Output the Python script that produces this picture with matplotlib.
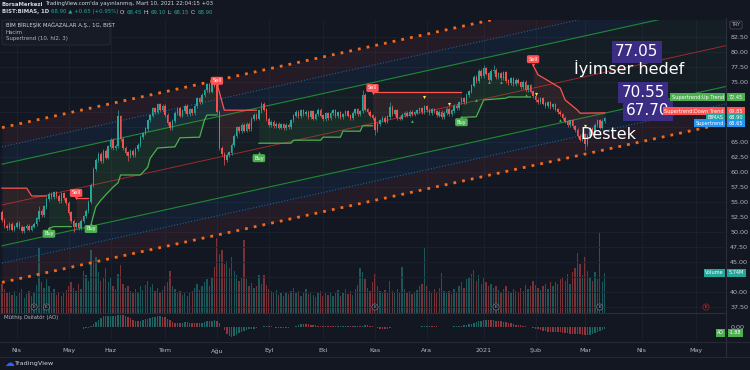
import numpy as np
import matplotlib
matplotlib.use('Agg')
import matplotlib.pyplot as plt
from matplotlib.patches import FancyBboxPatch
from matplotlib.transforms import blended_transform_factory

BG = '#131722'
UP = '#26a69a'
DN = '#ef5350'
TXT = '#b2b5be'
GRID = '#1c2130'
W, H = 750, 370

# daily closes, BIST:BIMAS, late Mar 2020 -> 10 Mar 2021
first_open = 53.3
closes = [
    52.0, 51.0, 50.6, 51.3, 50.4, 50.9, 51.5, 50.8, 50.2, 50.7, 51.0, 50.4, 50.9, 51.3,
    52.2, 53.5, 52.8, 54.2, 55.5, 56.3, 55.8, 56.6, 56.0, 55.2, 56.4, 55.6, 54.8,
    53.2, 51.8, 50.9, 51.4, 50.6, 51.8, 52.6, 53.5, 55.0, 57.8, 60.5, 62.0,
    63.0, 61.8, 63.5, 62.4, 64.2, 65.3, 64.0, 64.3, 69.2, 65.5,
    64.0, 63.2, 62.6, 63.5, 62.8, 63.8, 64.5, 65.8, 66.4, 67.2,
    68.6, 69.4, 70.6, 70.0, 71.2, 70.4, 71.0, 69.5, 68.2, 67.3, 68.5,
    69.8, 70.6, 69.4, 70.2, 71.0, 69.6, 70.4, 69.8, 71.0, 72.2, 71.6, 72.8, 73.6,
    74.6, 73.4, 74.8, 74.4, 70.0, 64.0, 63.0, 62.0, 62.8, 63.2,
    64.5, 66.0, 67.4, 66.8, 67.8, 66.9, 68.0, 67.2, 68.8, 69.5, 68.9,
    70.2, 71.3, 70.4, 68.8, 67.8, 68.3, 67.6, 68.0, 67.4, 67.9, 67.3, 67.8, 67.5,
    68.6, 69.4, 70.0, 69.3, 70.2, 69.6, 70.0, 69.2, 70.1, 68.9, 69.6, 70.3, 69.4, 68.8, 69.7,
    69.0, 69.8, 70.2, 69.3, 69.9, 69.2, 69.6, 70.1, 69.4, 69.0, 69.8, 70.4, 69.7, 70.1,
    72.8, 70.4, 70.0, 69.4, 69.0, 67.0, 68.0, 68.6, 69.0, 68.4, 69.2,
    70.8, 69.6, 70.2, 69.0, 68.9, 69.5, 69.8, 69.4, 70.0, 69.6, 69.9, 70.2,
    70.6, 70.0, 70.9, 70.3, 69.8, 70.4, 70.1, 69.5, 70.0, 69.2, 69.8, 70.5, 69.6, 70.2, 71.0, 70.6,
    71.6, 72.2, 71.6, 72.8, 73.4, 74.4, 75.8, 75.2, 76.8, 76.0, 77.2,
    76.4, 75.4, 76.8, 77.0, 75.8, 76.4, 75.6, 76.6, 75.2, 74.8, 75.6, 74.6, 75.3, 74.9,
    74.2, 75.0, 73.6, 74.4, 73.4, 72.6, 72.0, 71.6, 72.2, 71.4, 71.0, 71.6, 70.8,
    71.2, 70.4, 70.0, 69.6, 69.0, 68.4, 67.8, 68.6, 67.6, 67.0, 66.0, 65.4, 66.2, 64.6,
    66.0, 67.2, 66.4, 67.8, 68.6, 67.4, 68.45, 68.90,
]
# long wicks that stand out
high_spikes = {15: 54.4, 47: 70.3, 86: 75.6, 146: 73.6, 157: 71.6, 195: 77.9, 199: 77.8, 244: 69.10}
low_spikes = {29: 50.0, 51: 61.8, 90: 61.2, 151: 66.2, 236: 63.7, 244: 68.15}

# volume, millions
volumes = [
    4.2, 3.5, 2.8, 3.0, 2.6, 3.2, 2.4, 2.9, 3.4, 2.2, 2.7, 3.1, 2.5, 3.0,
    4.0, 9.4, 4.5, 3.6, 4.8, 3.9, 2.8, 3.4, 2.6, 3.0, 2.4, 2.9, 3.3,
    3.8, 4.4, 3.6, 3.2, 4.1, 3.5, 6.0, 5.5, 4.6, 9.0, 7.5, 8.0,
    5.8, 4.6, 5.0, 6.4, 4.4, 5.2, 3.8, 3.4, 5.6, 6.8,
    4.2, 3.6, 3.9, 3.2, 2.8, 3.5, 3.0, 3.8, 3.3, 4.0,
    4.6, 3.7, 4.2, 3.1, 3.6, 2.9, 3.3, 3.8, 4.5, 6.0, 3.9,
    3.4, 2.8, 3.1, 2.6, 3.0, 2.5, 2.9, 3.2, 3.6, 4.1, 3.3, 3.9, 4.4,
    4.8, 3.9, 5.2, 6.6, 10.7, 8.5, 9.0, 7.0, 7.5, 6.5,
    8.0, 6.0, 5.4, 4.6, 5.0, 10.4, 4.8, 3.9, 4.3, 3.6, 3.8,
    5.4, 4.2, 5.4, 4.0, 3.5, 3.1, 2.8, 3.3, 2.6, 2.9, 2.4, 3.0, 2.7,
    3.2, 3.6, 2.8, 3.1, 2.5, 2.9, 3.4, 2.7, 3.0, 2.6, 2.3, 2.8, 3.2, 2.5, 2.9,
    2.6, 3.0, 2.4, 2.8, 3.3, 2.5, 2.9, 3.5, 2.7, 3.1, 2.6, 3.4, 4.0, 6.4,
    5.8, 4.9, 3.6, 3.2, 4.4, 5.6, 3.8, 3.1, 2.9, 3.3, 2.8,
    4.6, 3.2, 2.9, 3.5, 3.0, 6.6, 3.4, 2.8, 3.1, 2.7, 3.0, 3.3,
    3.8, 4.2, 9.3, 3.9, 3.2, 2.9, 3.4, 3.0, 3.6, 5.7, 3.1, 2.8, 3.2, 2.7, 3.5, 3.0,
    3.8, 4.4, 3.6, 4.8, 5.2, 5.6, 6.2, 4.6, 5.4, 4.2, 5.0,
    4.4, 3.8, 4.2, 3.6, 3.9, 3.3, 3.0, 3.5, 3.8, 3.2, 2.9, 3.4, 3.1, 2.8,
    3.6, 3.2, 4.0, 3.4, 3.8, 4.6, 4.0, 3.6, 3.3, 3.9, 4.2, 3.5, 4.4,
    3.8, 4.5, 4.1, 4.8, 5.2, 4.6, 5.6, 4.2, 5.8, 6.5, 8.6, 7.0, 5.4, 8.0,
    6.0, 5.2, 4.6, 5.8, 4.8, 11.6, 4.4, 5.74,
]

# supertrend (10, hl2, 3), read as (day, level) points
st_down = [
    [(0, 57.3), (10, 57.3), (12, 56.0), (18, 56.0)],
    [(30, 55.7), (35, 55.7)],
    [(87, 74.8), (90, 70.3), (103, 70.3)],
    [(150, 73.3), (186, 73.3)],
    [(215, 77.8), (217, 76.2), (222, 75.0), (226, 74.0), (228, 72.0), (233, 70.3), (234, 69.8), (244, 69.85)],
]
st_up = [
    [(19, 50.6), (21, 50.9), (28, 50.9)],
    [(36, 51.2), (38, 54.2), (40, 55.3), (42, 56.2), (45, 57.5), (47, 58.2), (48, 59.5), (56, 59.5),
     (59, 60.8), (60, 62.3), (63, 64.0), (70, 64.2), (72, 65.7), (80, 65.8), (82, 68.7), (83, 69.5), (87, 69.5)],
    [(104, 64.8), (117, 64.8), (118, 65.3), (129, 65.3), (130, 65.8), (137, 65.8), (138, 66.8),
     (145, 66.8), (146, 67.7), (150, 67.7)],
    [(186, 69.1), (192, 69.2), (195, 72.0), (204, 72.3), (205, 72.5), (214, 72.5)],
]
sell_days = [30, 87, 150, 215]
sell_prices = [56.5, 75.2, 74.0, 78.8]
buy_days = [19, 36, 104, 186]
buy_prices = [49.7, 50.5, 62.3, 68.3]
warn_days = [171, 181, 216, 236]
warn_prices = [72.5, 71.3, 73.0, 67.7]
ok_days = [166, 177, 192, 197, 202, 212, 226]
ok_prices = [68.5, 69.7, 72.0, 75.0, 75.0, 72.8, 68.6]
earn_days = [13, 18, 151, 200, 242]
earn_future = 285

# regression channel
ch_start = 54.5
ch_slope = 0.0906
ch_green, ch_blue, ch_orange = 6.8, 9.7, 12.9

month_pos = [6, 27, 44, 66, 87, 108, 130, 151, 172, 195, 216, 236, 259, 281]
month_lbl = ['Nis', 'May', 'Haz', 'Tem', 'Ağu', 'Eyl', 'Eki', 'Kas', 'Ara', '2021', 'Şub', 'Mar', 'Nis', 'May']
price_ticks = [37.5, 40.0, 45.0, 47.5, 50.0, 52.5, 55.0, 57.5, 60.0, 62.5, 65.0, 75.0, 77.5, 80.0, 82.5]
ao_last = -1.88

n = min(len(closes), len(volumes))
days = np.arange(n)
c = np.array(closes[:n])
o = np.r_[first_open, c[:-1]]
hi = np.maximum(o, c) + 0.3
lo = np.minimum(o, c) - 0.3
for d, v in high_spikes.items():
    if d < n: hi[d] = v
for d, v in low_spikes.items():
    if d < n: lo[d] = v
vol = np.array(volumes[:n])
up = c >= o

XMIN, XMAX = -0.81, 293.1
fig = plt.figure(figsize=(7.5, 3.7), dpi=100, facecolor=BG)
main_rect = [0, (H - 313) / H, 726 / W, 293 / H]
axv = fig.add_axes(main_rect, facecolor=BG)
ax = fig.add_axes(main_rect)
ax.patch.set_alpha(0)
ax2 = fig.add_axes([0, (H - 340) / H, 726 / W, 27 / H], facecolor=BG)

# volume
axv.bar(days, vol, width=0.55, color=np.where(up, UP, DN), alpha=0.45, linewidth=0)
axv.set_xlim(XMIN, XMAX)
axv.set_ylim(0, 41.9)
axv.axis('off')

ax.set_xlim(XMIN, XMAX)
ax.set_ylim(36.5, 85.33)
for m in month_pos:
    ax.axvline(m, color=GRID, lw=0.6, zorder=0)
    ax2.axvline(m, color=GRID, lw=0.6, zorder=0)
for p in np.arange(37.5, 85, 2.5):
    ax.axhline(p, color=GRID, lw=0.6, zorder=0)

# channel
cx = np.array([0, XMAX])
mid = ch_start + ch_slope * cx
ax.fill_between(cx, mid + ch_blue, mid + ch_orange, color='#ff5252', alpha=0.07, lw=0, zorder=1)
ax.fill_between(cx, mid - ch_orange, mid - ch_blue, color='#ff5252', alpha=0.07, lw=0, zorder=1)
ax.fill_between(cx, mid + ch_green, mid + ch_blue, color='#2196f3', alpha=0.08, lw=0, zorder=1)
ax.fill_between(cx, mid - ch_blue, mid - ch_green, color='#2196f3', alpha=0.08, lw=0, zorder=1)
ax.fill_between(cx, mid - ch_green, mid + ch_green, color='#4caf50', alpha=0.05, lw=0, zorder=1)
ax.plot(cx, mid, color='#9c2a2a', lw=0.7, zorder=2)
for s in (1, -1):
    ax.plot(cx, mid + s * ch_green, color='#1f8a32', lw=0.8, zorder=2)
    ax.plot(cx, mid + s * ch_blue, color='#1f5f99', lw=0.8, ls=(0, (1, 1.6)), zorder=2)
    ax.plot(cx, mid + s * ch_orange, color='#f26b1d', lw=2.0, ls=(0, (1, 2.2)), zorder=2)

# supertrend
hl_mid = (o + c) / 2
for segs, col in ((st_down, '#ff5252'), (st_up, '#4caf50')):
    for seg in segs:
        sd = [p[0] for p in seg]
        sp = [p[1] for p in seg]
        dd = np.arange(sd[0], sd[-1] + 1)
        lvl = np.interp(dd, sd, sp)
        ax.fill_between(dd, lvl, hl_mid[dd], color=col, alpha=0.1, lw=0, zorder=3)
        ax.plot(dd, lvl, color=col, lw=0.9, zorder=4)

# candles
cols = np.where(up, UP, DN)
ax.vlines(days, lo, hi, colors=cols, lw=0.5, zorder=5)
ax.bar(days, np.abs(c - o) + 0.06, bottom=np.minimum(o, c), width=0.62, color=cols, lw=0, zorder=6)

for d, p in zip(sell_days, sell_prices):
    ax.text(d, p, 'Sell', fontsize=3.6, color='white', ha='center', va='center', zorder=8,
            bbox=dict(boxstyle='round,pad=0.3,rounding_size=0.3', fc='#ff5252', ec='none'))
    ax.scatter([d], [p - 0.9], marker='v', s=6, color='#ff5252', lw=0, zorder=8)
for d, p in zip(buy_days, buy_prices):
    ax.text(d, p, 'Buy', fontsize=3.6, color='white', ha='center', va='center', zorder=8,
            bbox=dict(boxstyle='round,pad=0.3,rounding_size=0.3', fc='#4caf50', ec='none'))
    ax.scatter([d], [p + 0.9], marker='^', s=6, color='#4caf50', lw=0, zorder=8)
ax.scatter(warn_days, warn_prices, marker='v', s=5, color='#ffeb3b', lw=0, zorder=8)
ax.scatter(ok_days, ok_prices, marker='^', s=4, color='#4caf50', lw=0, zorder=8)

for d in earn_days:
    ax.text(d, 37.5, 'E', fontsize=3.2, color=TXT, ha='center', va='center', zorder=8,
            bbox=dict(boxstyle='circle,pad=0.25', fc=BG, ec='#787b86', lw=0.5))
ax.text(earn_future, 37.5, 'E', fontsize=3.2, color='#ef5350', ha='center', va='center', zorder=8,
        bbox=dict(boxstyle='circle,pad=0.25', fc=BG, ec='#b71c1c', lw=0.5))

# annotations
purple = '#3b2d84'
ax.text(257, 80.0, '77.05', fontsize=11, color='white', ha='center', va='center', zorder=9,
        bbox=dict(boxstyle='square,pad=0.2', fc=purple, ec='none'))
ax.text(254, 77.2, 'İyimser hedef', fontsize=11.5, color='white', ha='center', va='center', zorder=9)
ax.text(259.5, 73.2, '70.55', fontsize=11, color='white', ha='center', va='center', zorder=9,
        bbox=dict(boxstyle='square,pad=0.2', fc=purple, ec='none'))
ax.text(261.5, 70.2, '67.70', fontsize=11, color='white', ha='center', va='center', zorder=9,
        bbox=dict(boxstyle='square,pad=0.2', fc=purple, ec='none'))
ax.text(245.5, 66.3, 'Destek', fontsize=11.5, color='white', ha='center', va='center', zorder=9)

# price axis (levels hidden by the tags are left out)
ax.yaxis.tick_right()
ax.set_yticks(price_ticks)
ax.set_yticklabels(['%.2f' % v for v in price_ticks])
ax.tick_params(axis='y', length=0, pad=3, labelsize=4.6, labelcolor=TXT)
ax.set_xticks([])
for sp in ax.spines.values():
    sp.set_visible(False)

tr = blended_transform_factory(ax.transAxes, ax.transData)
tags = [('Supertrend:Up Trend', '72.45', 72.45, '#4caf50'),
        ('Supertrend:Down Trend', '69.85', 70.1, '#ff5252'),
        ('BIMAS', '68.90', 69.05, UP),
        ('Supertrend', '68.65', 68.1, '#2196f3')]
for name, val, yy, col in tags:
    ax.text(0.997, yy, name, transform=tr, fontsize=3.6, color='white', ha='right', va='center',
            zorder=10, clip_on=False, bbox=dict(boxstyle='square,pad=0.3', fc=col, ec='none'))
    ax.text(1.004, yy, val, transform=tr, fontsize=3.6, color='white', ha='left', va='center',
            zorder=10, clip_on=False, bbox=dict(boxstyle='square,pad=0.3', fc=col, ec='none'))
trv = blended_transform_factory(axv.transAxes, axv.transData)
ax.text(0.997, 5.74, 'Volume', transform=trv, fontsize=3.6, color='white', ha='right', va='center',
        zorder=10, clip_on=False, bbox=dict(boxstyle='square,pad=0.3', fc=UP, ec='none'))
ax.text(1.004, 5.74, '5.74M', transform=trv, fontsize=3.6, color='white', ha='left', va='center',
        zorder=10, clip_on=False, bbox=dict(boxstyle='square,pad=0.3', fc=UP, ec='none'))

# awesome oscillator
med = (hi + lo) / 2
ao = np.full(n, np.nan)
for i in range(33, n):
    ao[i] = med[i - 4:i + 1].mean() - med[i - 33:i + 1].mean()
ao_up = np.r_[False, np.diff(ao) >= 0]
ax2.bar(days, np.nan_to_num(ao), width=0.6, color=np.where(ao_up, '#26a69a', '#ef5350'), alpha=0.55, lw=0)
ax2.set_xlim(XMIN, XMAX)
ax2.set_ylim(-8.6, 9.3)
ax2.yaxis.tick_right()
ax2.set_yticks([0])
ax2.set_yticklabels(['0.00'])
ax2.tick_params(axis='y', length=0, pad=3, labelsize=4.6, labelcolor=TXT)
ax2.set_xticks(month_pos)
ax2.set_xticklabels(month_lbl)
ax2.tick_params(axis='x', length=0, pad=6, labelsize=4.6, labelcolor=TXT)
for sp in ax2.spines.values():
    sp.set_visible(False)
ax2.spines['top'].set_visible(True)
ax2.spines['top'].set_color('#2a2e39')
ax2.spines['top'].set_linewidth(0.8)
tr2 = blended_transform_factory(ax2.transAxes, ax2.transData)
ax2.text(0.997, ao_last * 2.1, 'AO', transform=tr2, fontsize=3.4, color='white', ha='right', va='center',
         clip_on=False, bbox=dict(boxstyle='square,pad=0.25', fc='#4caf50', ec='none'))
ax2.text(1.004, ao_last * 2.1, '%.2f' % ao_last, transform=tr2, fontsize=3.4, color='white', ha='left',
         va='center', clip_on=False, bbox=dict(boxstyle='square,pad=0.25', fc='#4caf50', ec='none'))
ax2.text(0.006, 0.82, 'Müthiş Osilatör (AO)', transform=ax2.transAxes, fontsize=3.9, color=TXT, va='center')

# frame lines
fig.add_artist(plt.Line2D([726 / W, 726 / W], [1 - 18 / H, 1 - 357 / H], color='#2a2e39', lw=0.8))
fig.add_artist(plt.Line2D([0, 1], [1 - 342 / H, 1 - 342 / H], color='#2a2e39', lw=0.6))
fig.add_artist(plt.Line2D([0, 1], [1 - 357 / H, 1 - 357 / H], color='#2a2e39', lw=0.6))
fig.text(736 / W, 1 - 25 / H, 'TRY', fontsize=3.6, color=TXT, ha='center', va='center',
         bbox=dict(boxstyle='round,pad=0.3', fc=BG, ec='#50535e', lw=0.5))

# header
fig.canvas.draw()
rend = fig.canvas.get_renderer()


def line_of(pieces, ypx, x0=2):
    x = x0
    for txt, col, wt in pieces:
        t = fig.text(x / W, 1 - ypx / H, txt, fontsize=3.9, color=col, weight=wt, va='center')
        x += t.get_window_extent(rend).width + 1.5


line_of([('BorsaMerkezi', '#d1d4dc', 'bold'),
         ("TradingView.com'da yayınlanmış, Mart 10, 2021 22:04:15 +03", '#d1d4dc', 'normal')], 4)
line_of([('BIST:BIMAS, 1D', '#d1d4dc', 'bold'), ('68.90 ▲ +0.65 (+0.95%)', UP, 'normal'),
         ('O:', '#d1d4dc', 'normal'), ('68.45', UP, 'normal'), ('H:', '#d1d4dc', 'normal'),
         ('69.10', UP, 'normal'), ('L:', '#d1d4dc', 'normal'), ('68.15', UP, 'normal'),
         ('C:', '#d1d4dc', 'normal'), ('68.90', UP, 'normal')], 12)

fig.add_artist(FancyBboxPatch((2 / W, 1 - 45 / H), 108 / W, 25 / H, boxstyle='round,pad=0,rounding_size=0.004',
                              transform=fig.transFigure, fc='#171b26', ec='#2a2e39', lw=0.6))
fig.text(6 / W, 1 - 25 / H, 'BİM BİRLEŞİK MAĞAZALAR A.Ş., 1G, BIST', fontsize=3.9, color='#d1d4dc', va='center')
fig.text(6 / W, 1 - 32 / H, 'Hacim', fontsize=3.9, color=TXT, va='center')
fig.text(6 / W, 1 - 38.5 / H, 'Supertrend (10, hl2, 3)', fontsize=3.9, color=TXT, va='center')

fig.text(4 / W, 1 - 363 / H, '☁', fontsize=7, color='#2962ff', va='center')
fig.text(14 / W, 1 - 363 / H, 'TradingView', fontsize=4.6, color='#d1d4dc', va='center')

fig.savefig('out.png', dpi=100, facecolor=BG)
